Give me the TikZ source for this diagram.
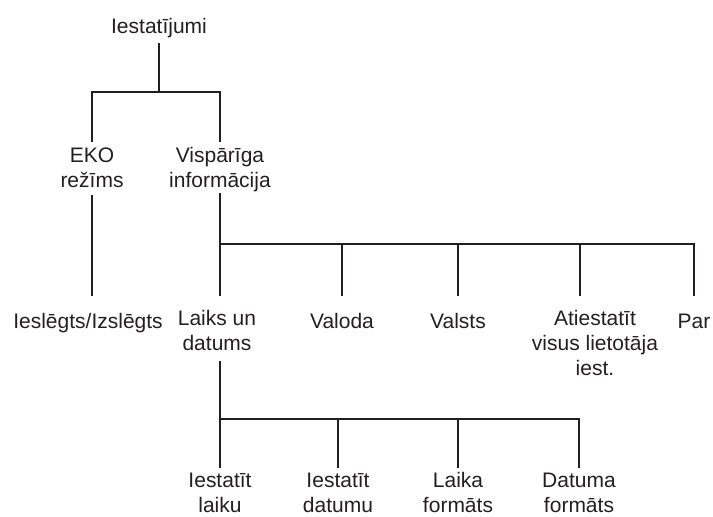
\documentclass[tikz,border=0pt]{standalone}
\usepackage{fontspec}
\setmainfont{Liberation Sans}
\definecolor{ink}{RGB}{35,31,32}

\begin{document}
\begin{tikzpicture}[x=1pt, y=-1pt,
  item/.style={anchor=north, inner sep=0pt, align=center, text=ink,
    font=\fontsize{21}{25}\selectfont,
    execute at begin node=\strut, execute at end node=\strut},
  link/.style={ink, line width=2.2pt},
  drop/.style={link, shorten >=15pt}
]
  \useasboundingbox (0,0) rectangle (713,517);

  % levels
  \node[item] (root) at (159,15.5) {Iestatījumi};
  \node[item] (eko)  at (92,147.5) {EKO\\režīms};
  \node[item] (vis)  at (220,147.5) {Vispārīga\\informācija};

  \node[item] (onoff)  at (88,310.5)  {Ieslēgts/Izslēgts};
  \node[item] (laiks)  at (217,310.5) {Laiks un\\datums};
  \node[item] (valoda) at (342,310.5) {Valoda};
  \node[item] (valsts) at (458,310.5) {Valsts};
  \node[item] (reset)  at (595,310.5) {Atiestatīt\\visus lietotāja\\iest.};
  \node[item] (par)    at (694,310.5) {Par};

  \node[item] (setl)  at (220,472.5) {Iestatīt\\laiku};
  \node[item] (setd)  at (338,472.5) {Iestatīt\\datumu};
  \node[item] (lform) at (458,472.5) {Laika\\formāts};
  \node[item] (dform) at (579,472.5) {Datuma\\formāts};

  \coordinate (bus0) at (0,92);
  \coordinate (bus1) at (0,244);
  \coordinate (bus2) at (0,419);
  \coordinate (resettap) at (580,244);

  % top
  \draw[link, shorten <=2.5pt] (root.south) -- (root.south |- bus0);
  \draw[link, shorten <=5.5pt, shorten >=5.5pt]
    (eko.north) -- (eko.north |- bus0) -- (vis.north |- bus0) -- (vis.north);
  \draw[drop] (eko.south) -- (eko.south |- onoff.north);

  % Vispariga informacija
  \draw[drop, shorten <=-2.5pt] (vis.south) -- (vis.south |- laiks.north);
  \draw[drop] (vis.south |- bus1) -- (par.north |- bus1) -- (par.north);
  \foreach \n in {valoda, valsts}
    \draw[drop] (\n.north |- bus1) -- (\n.north);
  \draw[drop] (resettap) -- (resettap |- reset.north);

  % Laiks un datums
  \draw[link, shorten <=2.5pt, shorten >=4.5pt] (laiks.south -| setl.north) -- (setl.north);
  \draw[link, shorten >=4.5pt] (setl.north |- bus2) -- (dform.north |- bus2) -- (dform.north);
  \foreach \n in {setd, lform}
    \draw[link, shorten >=4.5pt] (\n.north |- bus2) -- (\n.north);
\end{tikzpicture}
\end{document}
